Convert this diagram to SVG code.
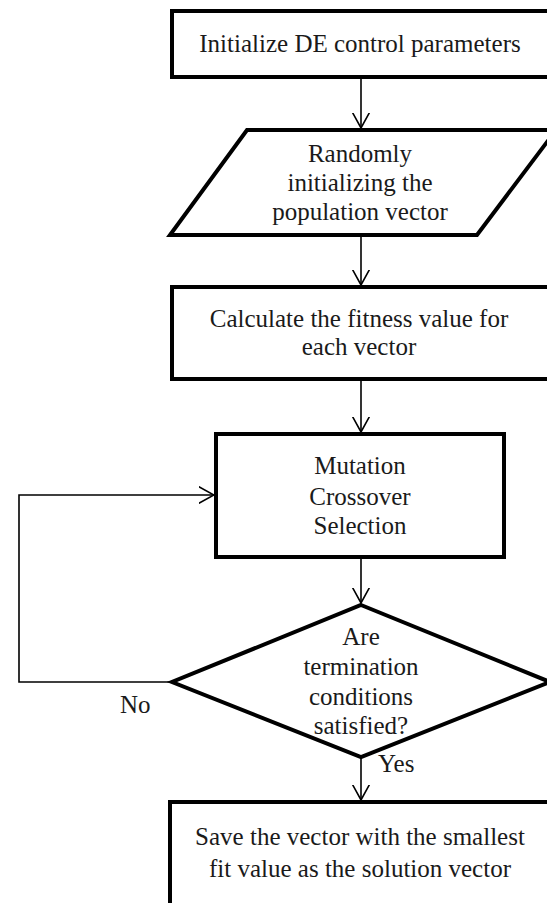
<svg xmlns="http://www.w3.org/2000/svg" width="547" height="903" viewBox="0 0 547 903">
<style>
.shape{fill:#fff;stroke:#000;stroke-width:4;stroke-linejoin:miter}
.t{font-family:"Liberation Serif","Times New Roman",serif;font-size:25px;fill:#1a1a1a;text-anchor:middle}
.lbl{font-family:"Liberation Serif","Times New Roman",serif;font-size:25px;fill:#1a1a1a}
.c{fill:none;stroke:#000;stroke-width:1.6}
</style>
<defs>
<marker id="arr" viewBox="0 0 16 18" refX="15.5" refY="9" markerWidth="16" markerHeight="18" markerUnits="userSpaceOnUse" orient="auto">
<path d="M0,0.5 L15.5,9 L0,17.5" fill="none" stroke="#000" stroke-width="1.6"/>
</marker>
</defs>
<rect width="547" height="903" fill="#fff"/>
<g id="connectors">
<line class="c" x1="361" y1="77" x2="361" y2="128" marker-end="url(#arr)"/>
<line class="c" x1="361" y1="235" x2="361" y2="285" marker-end="url(#arr)"/>
<line class="c" x1="361" y1="379" x2="361" y2="432" marker-end="url(#arr)"/>
<line class="c" x1="361" y1="557" x2="361" y2="603" marker-end="url(#arr)"/>
<line class="c" x1="361" y1="757" x2="361" y2="800" marker-end="url(#arr)"/>
<polyline class="c" points="172,682 19,682 19,495 214,495" marker-end="url(#arr)"/>
<text class="lbl" x="120" y="713">No</text>
<text class="lbl" x="378" y="772">Yes</text>
</g>
<g id="init">
<rect class="shape" x="172" y="11" width="378" height="66"/>
<text class="t" x="360" y="52">Initialize DE control parameters</text>
</g>
<g id="population">
<polygon class="shape" points="247,130 556,130 477,235 170,235"/>
<text class="t" x="360" y="162">Randomly</text>
<text class="t" x="360" y="191">initializing the</text>
<text class="t" x="360" y="220">population vector</text>
</g>
<g id="fitness">
<rect class="shape" x="172" y="287" width="378" height="92"/>
<text class="t" x="359" y="327">Calculate the fitness value for</text>
<text class="t" x="359" y="355">each vector</text>
</g>
<g id="operators">
<rect class="shape" x="216" y="434" width="288" height="123"/>
<text class="t" x="360" y="474">Mutation</text>
<text class="t" x="360" y="505">Crossover</text>
<text class="t" x="360" y="534">Selection</text>
</g>
<g id="termination">
<polygon class="shape" points="361,605 550,682 361,757 172,682"/>
<text class="t" x="361" y="645">Are</text>
<text class="t" x="361" y="675">termination</text>
<text class="t" x="361" y="705">conditions</text>
<text class="t" x="361" y="734">satisfied?</text>
</g>
<g id="save">
<rect class="shape" x="170" y="802" width="380" height="130"/>
<text class="t" x="360" y="845">Save the vector with the smallest</text>
<text class="t" x="360" y="877">fit value as the solution vector</text>
</g>
</svg>
